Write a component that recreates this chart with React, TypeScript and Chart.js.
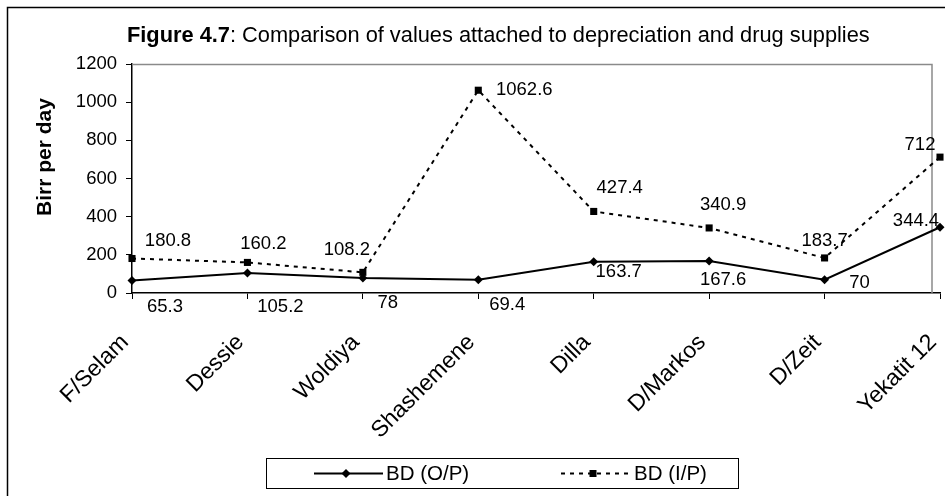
import React, { useEffect, useRef } from 'react';
import { Chart, registerables } from 'chart.js';

Chart.register(...registerables);

const categories = ['F/Selam', 'Dessie', 'Woldiya', 'Shashemene', 'Dilla', 'D/Markos', 'D/Zeit', 'Yekatit 12'];
const bdOP = [65.3, 105.2, 78, 69.4, 163.7, 167.6, 70, 344.4];
const bdIP = [180.8, 160.2, 108.2, 1062.6, 427.4, 340.9, 183.7, 712];
const seriesNames = ['BD (O/P)', 'BD (I/P)'];
const yMin = 0;
const yMax = 1200;
const yStep = 200;
const titleBold = 'Figure 4.7';
const titleRest = ': Comparison of values attached to depreciation and drug supplies';
const yTitle = 'Birr per day';

// label offsets relative to each point (styling only)
const opLabelOffsets = [[33, 26], [33, 34], [25, 25], [29, 25], [25, 10], [14, 19], [35, 3], [-24, -6]];
const ipLabelOffsets = [[36, -18], [16, -19], [-16, -22], [46, 0], [26, -24], [14, -23], [0, -17], [-20, -12]];

const FONT = '"Liberation Sans", Arial, sans-serif';

const decorPlugin = {
  id: 'decor',
  beforeDatasetsDraw(chart: any) {
    const { ctx, chartArea } = chart;
    ctx.save();
    ctx.strokeStyle = '#8a8a8a';
    ctx.lineWidth = 1.5;
    const fr = chartArea.right - 8;
    ctx.beginPath();
    ctx.moveTo(chartArea.left, chartArea.top + 0.5);
    ctx.lineTo(fr, chartArea.top + 0.5);
    ctx.lineTo(fr, chartArea.bottom);
    ctx.stroke();
    ctx.restore();
  },
  afterDraw(chart: any) {
    const { ctx } = chart;
    ctx.save();
    ctx.strokeStyle = '#000';
    ctx.lineWidth = 1.5;
    ctx.strokeRect(7.5, 7.5, 960, 520);

    ctx.fillStyle = '#000';
    ctx.textBaseline = 'alphabetic';
    ctx.textAlign = 'left';
    ctx.font = `bold 21.8px ${FONT}`;
    const bw = ctx.measureText(titleBold).width;
    ctx.fillText(titleBold, 127, 42);
    ctx.font = `21.8px ${FONT}`;
    ctx.fillText(titleRest, 127 + bw, 42);

    ctx.save();
    ctx.translate(45, 157);
    ctx.rotate(-Math.PI / 2);
    ctx.font = `bold 21px ${FONT}`;
    ctx.textAlign = 'center';
    ctx.textBaseline = 'middle';
    ctx.fillText(yTitle, 0, 0);
    ctx.restore();

    ctx.font = `18.5px ${FONT}`;
    ctx.textAlign = 'center';
    ctx.textBaseline = 'middle';
    const offs = [opLabelOffsets, ipLabelOffsets];
    chart.data.datasets.forEach((ds: any, di: number) => {
      const meta = chart.getDatasetMeta(di);
      meta.data.forEach((pt: any, i: number) => {
        const [dx, dy] = offs[di][i];
        ctx.fillText(String(ds.data[i]), pt.x + dx, pt.y + dy);
      });
    });

    const lx = 266, ly = 458, lw = 472, lh = 30;
    ctx.strokeStyle = '#000';
    ctx.lineWidth = 1;
    ctx.strokeRect(lx + 0.5, ly + 0.5, lw, lh);
    const cy = ly + lh / 2 + 0.5;
    ctx.lineWidth = 2;
    ctx.setLineDash([]);
    ctx.beginPath();
    ctx.moveTo(314, cy);
    ctx.lineTo(383, cy);
    ctx.stroke();
    ctx.fillStyle = '#000';
    ctx.beginPath();
    ctx.moveTo(346 - 4.5, cy);
    ctx.lineTo(346, cy - 4.5);
    ctx.lineTo(346 + 4.5, cy);
    ctx.lineTo(346, cy + 4.5);
    ctx.closePath();
    ctx.fill();
    ctx.setLineDash([4, 5]);
    ctx.beginPath();
    ctx.moveTo(561, cy);
    ctx.lineTo(631, cy);
    ctx.stroke();
    ctx.setLineDash([]);
    ctx.fillRect(593 - 3.5, cy - 3.5, 7, 7);
    ctx.font = `20.5px ${FONT}`;
    ctx.textAlign = 'left';
    ctx.textBaseline = 'middle';
    ctx.fillText(seriesNames[0], 386, cy + 1);
    ctx.fillText(seriesNames[1], 634, cy + 1);
    ctx.restore();
  },
};

export default function App() {
  const ref = useRef<HTMLCanvasElement | null>(null);
  useEffect(() => {
    document.body.style.margin = '0';
    const canvas = ref.current!;
    const chart = new Chart(canvas, {
      type: 'line',
      data: {
        labels: categories,
        datasets: [
          {
            label: seriesNames[0],
            data: bdOP,
            borderColor: '#000',
            backgroundColor: '#000',
            borderWidth: 2,
            pointStyle: 'rectRot',
            pointRadius: 4.5,
            pointBorderWidth: 0,
            tension: 0,
          },
          {
            label: seriesNames[1],
            data: bdIP,
            borderColor: '#000',
            backgroundColor: '#000',
            borderWidth: 2,
            borderDash: [4, 5],
            pointStyle: 'rect',
            pointRadius: 5,
            pointBorderWidth: 0,
            tension: 0,
          },
        ],
      },
      options: {
        responsive: false,
        animation: false,
        clip: false,
        layout: { padding: { top: 64, left: 0, right: 4, bottom: 0 } },
        plugins: {
          legend: { display: false },
          title: { display: false },
          tooltip: { enabled: false },
        },
        scales: {
          x: {
            offset: false,
            afterFit: (s: any) => { s.height = 203; s.paddingLeft = 0; s.paddingRight = 0; },
            grid: { display: true, drawOnChartArea: false, tickLength: 6, color: '#000' },
            border: { display: true, color: '#000', width: 1.5 },
            ticks: {
              autoSkip: false,
              maxRotation: 45,
              minRotation: 45,
              padding: 30,
              labelOffset: -7,
              color: '#000',
              font: { family: FONT, size: 23 },
            },
          },
          y: {
            min: yMin,
            max: yMax,
            afterFit: (s: any) => { s.width = 132; s.paddingTop = 0; s.paddingBottom = 0; },
            grid: { display: true, drawOnChartArea: false, tickLength: 6, color: '#000' },
            border: { display: true, color: '#000', width: 1.5 },
            ticks: {
              stepSize: yStep,
              padding: 9,
              color: '#000',
              font: { family: FONT, size: 18.5 },
              callback: (v: any) => String(v),
            },
          },
        },
      },
      plugins: [decorPlugin],
    });
    return () => chart.destroy();
  }, []);
  return <canvas ref={ref} width={945} height={496} style={{ display: 'block' }} />;
}
